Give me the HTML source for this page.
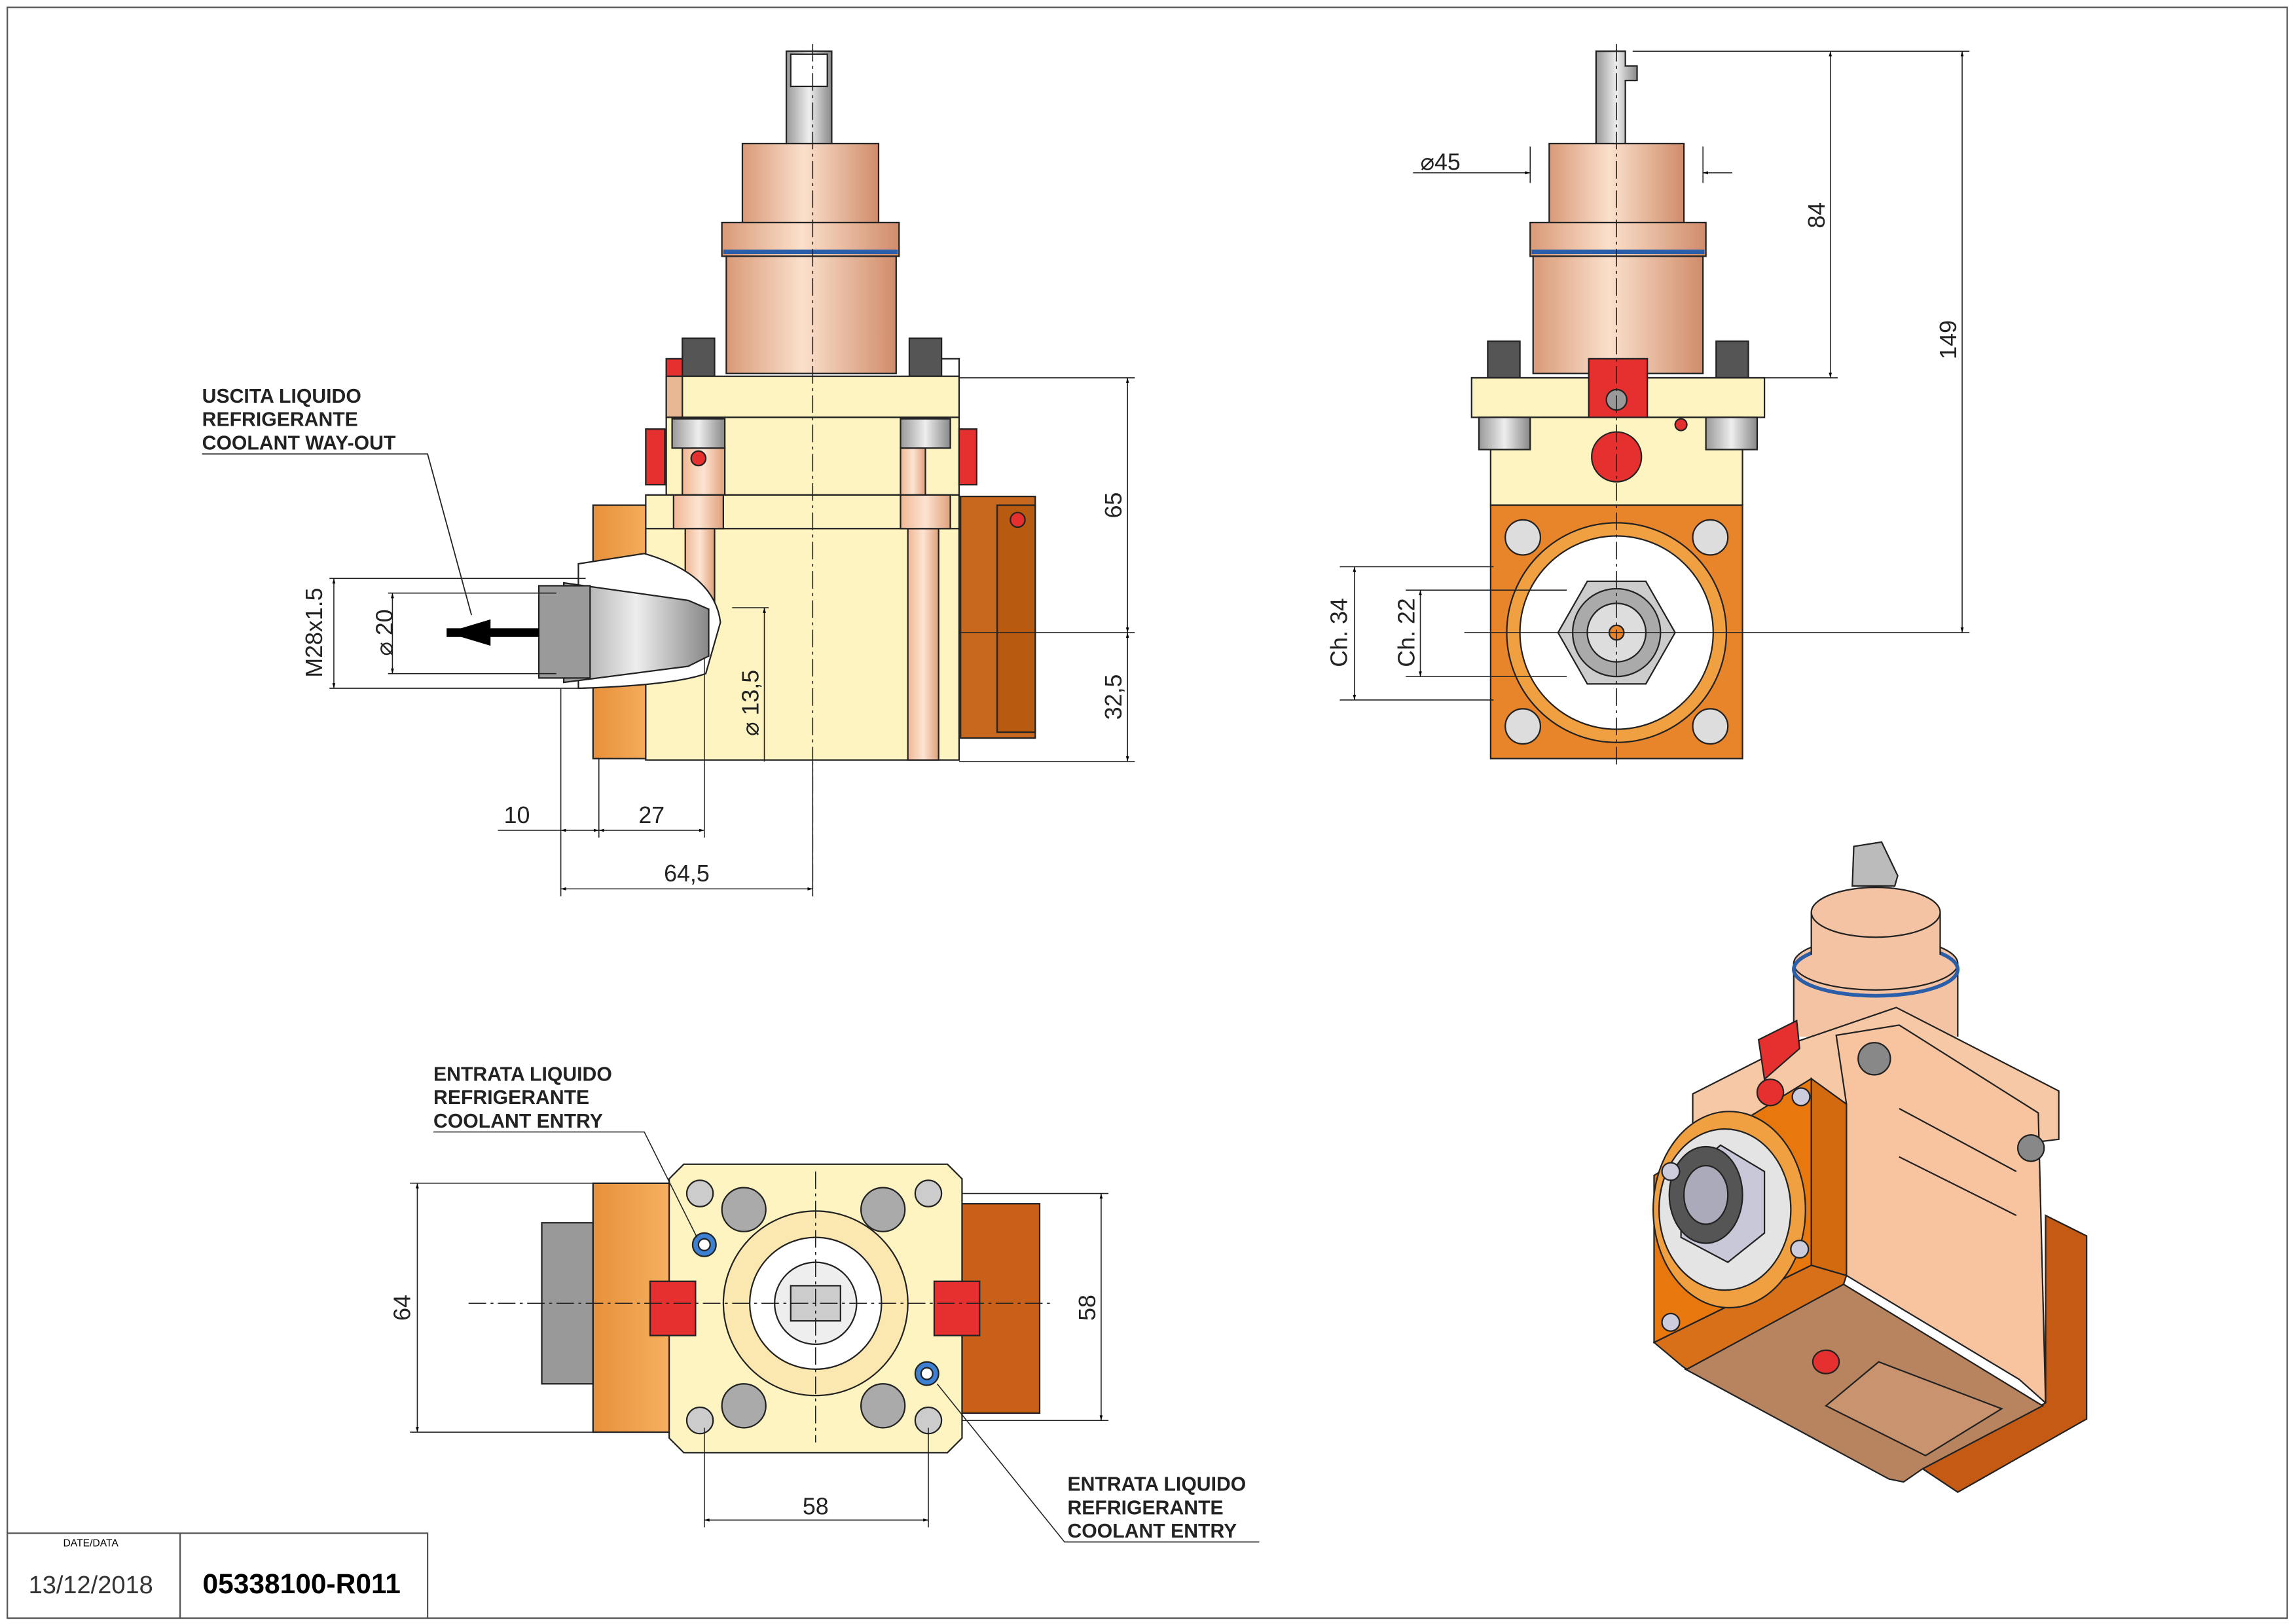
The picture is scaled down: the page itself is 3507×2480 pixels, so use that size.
<!DOCTYPE html>
<html><head><meta charset="utf-8"><style>
html,body{margin:0;padding:0;background:#fff}
svg{display:block}
text{font-family:"Liberation Sans",sans-serif}
</style></head><body>
<svg width="3507" height="2480" viewBox="0 0 1568 1109" preserveAspectRatio="none" xmlns="http://www.w3.org/2000/svg">
<defs>
<linearGradient id="cu" x1="0" x2="1"><stop offset="0" stop-color="#d99a78"/><stop offset=".45" stop-color="#fbe0cc"/><stop offset="1" stop-color="#d08c6a"/></linearGradient>
<linearGradient id="sh" x1="0" x2="1"><stop offset="0" stop-color="#999"/><stop offset=".5" stop-color="#eee"/><stop offset="1" stop-color="#888"/></linearGradient>
<linearGradient id="pk" x1="0" x2="1"><stop offset="0" stop-color="#efb894"/><stop offset=".5" stop-color="#fde4d2"/><stop offset="1" stop-color="#e0a07a"/></linearGradient>
<linearGradient id="or" x1="0" x2="1"><stop offset="0" stop-color="#e8903a"/><stop offset="1" stop-color="#f5b060"/></linearGradient>
<marker id="a" viewBox="0 0 10 10" refX="10" refY="5" markerWidth="8" markerHeight="5" orient="auto-start-reverse"><path d="M0,2 L10,5 L0,8z" fill="#000"/></marker>
</defs>
<rect x="5" y="5" width="1557" height="1100" fill="#fff" stroke="#555" stroke-width="1"/>
<!-- title block -->
<path d="M5,1047 H292 V1105 M123,1047 V1105" fill="none" stroke="#555"/>
<text x="62" y="1056" font-size="7" text-anchor="middle">DATE/DATA</text>
<text x="62" y="1088" font-size="17" text-anchor="middle" fill="#333">13/12/2018</text>
<text x="206" y="1088" font-size="19" font-weight="bold" text-anchor="middle">05338100-R011</text>

<g stroke="#222" stroke-width="1">
<!-- FRONT VIEW -->
<rect x="537" y="35" width="31" height="65" fill="url(#sh)"/>
<rect x="540" y="37" width="25" height="22" fill="#fff"/>
<rect x="507" y="98" width="93" height="57" fill="url(#cu)"/>
<rect x="493" y="152" width="121" height="23" fill="url(#cu)"/>
<rect x="496" y="175" width="116" height="80" fill="url(#cu)"/>
<line x1="494" y1="172" x2="613" y2="172" stroke="#2a5ea8" stroke-width="3"/>
<rect x="466" y="231" width="22" height="26" fill="#555"/>
<rect x="621" y="231" width="22" height="26" fill="#555"/>
<rect x="455" y="245" width="11" height="12" fill="#e63030"/>
<rect x="643" y="245" width="12" height="12" fill="#fff"/>
<rect x="405" y="345" width="40" height="173" fill="url(#or)"/>
<rect x="656" y="339" width="51" height="165" fill="#c8681e"/>
<rect x="681" y="345" width="26" height="155" fill="#b85a10"/>
<circle cx="695" cy="355" r="5" fill="#e63030"/>
<rect x="455" y="257" width="200" height="28" fill="#fdf4c2"/>
<rect x="455" y="257" width="11" height="28" fill="#e8b894"/>
<rect x="455" y="285" width="200" height="53" fill="#fdf4c2"/>
<rect x="441" y="293" width="13" height="38" fill="#e63030"/>
<rect x="655" y="293" width="12" height="38" fill="#e63030"/>
<rect x="466" y="306" width="29" height="32" fill="url(#pk)"/>
<rect x="615" y="306" width="17" height="32" fill="url(#pk)"/>
<rect x="459" y="286" width="36" height="20" fill="url(#sh)"/>
<rect x="615" y="286" width="34" height="20" fill="url(#sh)"/>
<circle cx="477" cy="313" r="5" fill="#e63030"/>
<rect x="441" y="338" width="214" height="181" fill="#fdf4c2"/>
<line x1="441" y1="361" x2="655" y2="361"/>
<rect x="620" y="361" width="21" height="158" fill="url(#pk)"/>
<rect x="460" y="338" width="34" height="23" fill="url(#pk)"/>
<rect x="615" y="338" width="34" height="23" fill="url(#pk)"/>
<rect x="468" y="361" width="20" height="60" fill="url(#pk)"/>
<path d="M395,385 L440,378 Q488,392 492,425 L482,460 Q460,468 395,470z" fill="#fff" stroke="#222"/>
<path d="M385,398 L470,410 L484,416 L484,448 L470,455 L385,466z" fill="url(#sh)"/>
<rect x="368" y="400" width="35" height="63" fill="#9a9a9a"/>
<line x1="305" y1="432" x2="368" y2="432" stroke="#000" stroke-width="6" marker-start="url(#a)"/>
</g>
<g stroke="#222" stroke-width="0.7" fill="none">
<line x1="555" y1="30" x2="555" y2="612" stroke-dasharray="12,3,2,3"/>
<path d="M655,258 H775 M655,432 H775 M655,520 H775"/>
<line x1="770" y1="258" x2="770" y2="432" marker-start="url(#a)" marker-end="url(#a)"/>
<line x1="770" y1="432" x2="770" y2="520" marker-start="url(#a)" marker-end="url(#a)"/>
<path d="M225,395 H400 M225,470 H400 M265,405 H380 M265,460 H380 M500,415 H525"/>
<line x1="228" y1="395" x2="228" y2="470" marker-start="url(#a)" marker-end="url(#a)"/>
<line x1="268" y1="405" x2="268" y2="460" marker-start="url(#a)" marker-end="url(#a)"/>
<line x1="522" y1="415" x2="522" y2="520" marker-start="url(#a)"/>
<path d="M383,470 V612 M409,518 V572 M481,450 V572 M555,520 V612"/>
<line x1="340" y1="567" x2="383" y2="567"/>
<line x1="383" y1="567" x2="409" y2="567" marker-start="url(#a)" marker-end="url(#a)"/>
<line x1="409" y1="567" x2="481" y2="567" marker-start="url(#a)" marker-end="url(#a)"/>
<line x1="383" y1="607" x2="555" y2="607" marker-start="url(#a)" marker-end="url(#a)"/>
<polyline points="138,310 292,310 322,420" stroke-width="0.8"/>
</g>
<g font-size="16" fill="#222">
<text transform="translate(766,345) rotate(-90)" text-anchor="middle">65</text>
<text transform="translate(766,476) rotate(-90)" text-anchor="middle">32,5</text>
<text transform="translate(220,432) rotate(-90)" text-anchor="middle">M28x1.5</text>
<text transform="translate(268,432) rotate(-90)" text-anchor="middle">⌀ 20</text>
<text transform="translate(518,480) rotate(-90)" text-anchor="middle">⌀ 13,5</text>
<text x="353" y="562" text-anchor="middle">10</text>
<text x="445" y="562" text-anchor="middle">27</text>
<text x="469" y="602" text-anchor="middle">64,5</text>
</g>
<g font-size="13.5" font-weight="bold" fill="#222">
<text x="138" y="275">USCITA LIQUIDO</text><text x="138" y="291">REFRIGERANTE</text><text x="138" y="307">COOLANT WAY-OUT</text>
<text x="296" y="738">ENTRATA LIQUIDO</text><text x="296" y="754">REFRIGERANTE</text><text x="296" y="770">COOLANT ENTRY</text>
<text x="729" y="1018">ENTRATA LIQUIDO</text><text x="729" y="1034">REFRIGERANTE</text><text x="729" y="1050">COOLANT ENTRY</text>
</g>

<!-- SIDE VIEW -->
<g stroke="#222" stroke-width="1">
<path d="M1090,35 H1110 V45 H1118 V55 H1110 V100 H1090z" fill="url(#sh)"/>
<rect x="1058" y="98" width="92" height="57" fill="url(#cu)"/>
<rect x="1045" y="152" width="120" height="23" fill="url(#cu)"/>
<rect x="1047" y="175" width="116" height="80" fill="url(#cu)"/>
<line x1="1046" y1="172" x2="1164" y2="172" stroke="#2a5ea8" stroke-width="3"/>
<rect x="1016" y="233" width="22" height="25" fill="#555"/>
<rect x="1172" y="233" width="22" height="25" fill="#555"/>
<rect x="1005" y="258" width="200" height="27" fill="#fdf4c2"/>
<rect x="1018" y="285" width="172" height="60" fill="#fdf4c2"/>
<rect x="1010" y="285" width="35" height="22" fill="url(#sh)"/>
<rect x="1165" y="285" width="35" height="22" fill="url(#sh)"/>
<rect x="1085" y="245" width="40" height="40" fill="#e63030"/>
<circle cx="1104" cy="273" r="7" fill="#999"/>
<circle cx="1104" cy="312" r="17" fill="#e63030"/>
<circle cx="1148" cy="290" r="4" fill="#e63030"/>
<rect x="1018" y="345" width="172" height="173" fill="#e8842a"/>
<circle cx="1104" cy="432" r="75" fill="#f0a040"/>
<circle cx="1104" cy="432" r="66" fill="#fff"/>
<polygon points="1064,432 1084,397 1124,397 1144,432 1124,467 1084,467" fill="#ccc"/>
<circle cx="1104" cy="432" r="30" fill="#aaa"/>
<circle cx="1104" cy="432" r="20" fill="#ddd"/>
<circle cx="1104" cy="432" r="5" fill="#e8842a"/>
<g fill="#ddd"><circle cx="1040" cy="367" r="12"/><circle cx="1168" cy="367" r="12"/><circle cx="1040" cy="496" r="12"/><circle cx="1168" cy="496" r="12"/></g>
</g>
<g stroke="#222" stroke-width="0.7" fill="none">
<line x1="1104" y1="30" x2="1104" y2="525" stroke-dasharray="12,3,2,3"/>
<path d="M1115,35 H1345 M1165,258 H1255 M1000,432 H1345 M915,387 H1020 M960,403 H1070 M915,478 H1020 M960,462 H1070 M1045,100 V125 M1163,100 V125"/>
<line x1="1250" y1="35" x2="1250" y2="258" marker-start="url(#a)" marker-end="url(#a)"/>
<line x1="1340" y1="35" x2="1340" y2="432" marker-start="url(#a)" marker-end="url(#a)"/>
<line x1="925" y1="387" x2="925" y2="478" marker-start="url(#a)" marker-end="url(#a)"/>
<line x1="970" y1="403" x2="970" y2="462" marker-start="url(#a)" marker-end="url(#a)"/>
<line x1="965" y1="118" x2="1045" y2="118" marker-end="url(#a)"/>
<line x1="1163" y1="118" x2="1183" y2="118" marker-start="url(#a)"/>
</g>
<g font-size="16" fill="#222">
<text x="970" y="116">⌀45</text>
<text transform="translate(1246,147) rotate(-90)" text-anchor="middle">84</text>
<text transform="translate(1336,232) rotate(-90)" text-anchor="middle">149</text>
<text transform="translate(920,432) rotate(-90)" text-anchor="middle">Ch. 34</text>
<text transform="translate(966,432) rotate(-90)" text-anchor="middle">Ch. 22</text>
</g>

<!-- BOTTOM VIEW -->
<g stroke="#222" stroke-width="1">
<rect x="370" y="835" width="35" height="110" fill="#999"/>
<rect x="405" y="808" width="52" height="170" fill="url(#or)"/>
<rect x="657" y="822" width="53" height="143" fill="#c8601a"/>
<polygon points="467,795 647,795 657,805 657,982 647,992 467,992 457,982 457,805" fill="#fdf4c2"/>
<circle cx="557" cy="890" r="63" fill="#fbe8b0"/>
<circle cx="557" cy="890" r="45" fill="#fff"/>
<circle cx="557" cy="890" r="28" fill="#eee"/>
<rect x="540" y="878" width="34" height="24" fill="#ccc"/>
<g fill="#aaa"><circle cx="508" cy="826" r="15"/><circle cx="603" cy="826" r="15"/><circle cx="508" cy="960" r="15"/><circle cx="603" cy="960" r="15"/></g>
<g fill="#ccc"><circle cx="478" cy="815" r="9"/><circle cx="634" cy="815" r="9"/><circle cx="478" cy="970" r="9"/><circle cx="634" cy="970" r="9"/></g>
<circle cx="481" cy="850" r="8" fill="#3d7fd0"/><circle cx="481" cy="850" r="4" fill="#fff"/>
<circle cx="633" cy="938" r="8" fill="#3d7fd0"/><circle cx="633" cy="938" r="4" fill="#fff"/>
<rect x="444" y="875" width="31" height="37" fill="#e63030"/>
<rect x="638" y="875" width="31" height="37" fill="#e63030"/>
</g>
<g stroke="#222" stroke-width="0.7" fill="none">
<path d="M320,890 H720 M557,800 V985" stroke-dasharray="12,3,2,3"/>
<path d="M280,808 H410 M280,978 H410 M657,815 H757 M657,970 H757 M481,975 V1043 M634,975 V1043"/>
<line x1="285" y1="808" x2="285" y2="978" marker-start="url(#a)" marker-end="url(#a)"/>
<line x1="752" y1="815" x2="752" y2="970" marker-start="url(#a)" marker-end="url(#a)"/>
<line x1="481" y1="1038" x2="634" y2="1038" marker-start="url(#a)" marker-end="url(#a)"/>
<polyline points="296,773 440,773 476,845"/>
<polyline points="860,1053 727,1053 640,945"/>
</g>
<g font-size="16" fill="#222">
<text transform="translate(280,893) rotate(-90)" text-anchor="middle">64</text>
<text transform="translate(748,893) rotate(-90)" text-anchor="middle">58</text>
<text x="557" y="1034" text-anchor="middle">58</text>
</g>

<!-- ISOMETRIC -->
<g stroke="#222" stroke-width="1">
<polygon points="1266,578 1285,575 1296,598 1294,605 1265,605" fill="#bbb"/>
<rect x="1225" y="658" width="112" height="50" fill="#f4c3a3" stroke="none"/>
<path d="M1225,658 V708 M1337,658 V708"/>
<ellipse cx="1281" cy="658" rx="56" ry="18" fill="#f4c3a3"/>
<ellipse cx="1281" cy="662" rx="56" ry="18" fill="none" stroke="#2a5ea8" stroke-width="2.5"/>
<rect x="1237" y="623" width="88" height="33" fill="#f4c3a3" stroke="none"/>
<path d="M1237,623 V652 M1325,623 V652"/>
<ellipse cx="1281" cy="623" rx="44" ry="17" fill="#f4c3a3"/>
<polygon points="1156,747 1225,712 1295,688 1406,745 1406,778 1390,780 1156,770" fill="#f6c8a6"/>
<polygon points="1254,707 1297,700 1392,760 1397,958 1379,942 1261,871 1261,754" fill="#f8c4a0"/>
<path d="M1297,757 L1377,800 M1297,790 L1377,830" fill="none"/>
<polygon points="1397,830 1425,844 1425,969 1337,1019 1313,1003 1397,958" fill="#c45a14"/>
<polygon points="1151,935 1259,877 1395,960 1313,1003 1300,1012 1290,1010" fill="#b88460"/>
<polygon points="1247,960 1283,930 1367,962 1315,994" fill="#c8936e"/>
<polygon points="1129.6,916.7 1237,864 1261,871 1259,877 1152,935 1149,933" fill="#d8701a"/>
<polygon points="1129.6,802.7 1237,736.6 1237,864 1129.6,916.7" fill="#e8780e"/>
<polygon points="1237,736.6 1261,754 1261,871 1237,864" fill="#d46a10"/>
<ellipse cx="1181" cy="826" rx="52" ry="67" fill="#f0a040"/>
<ellipse cx="1178" cy="826" rx="45" ry="55" fill="#e4e4e4"/>
<polygon points="1148,805 1175,782 1205,800 1205,842 1180,862 1148,845" fill="#c8c8d8"/>
<ellipse cx="1165" cy="816" rx="25" ry="33" fill="#555"/>
<ellipse cx="1165" cy="816" rx="15" ry="20" fill="#aab"/>
<ellipse cx="1247" cy="930" rx="9" ry="8" fill="#e63030"/>
<polygon points="1201,710 1227,697 1229,716 1205,737" fill="#e63030"/>
<circle cx="1209" cy="746" r="9" fill="#e63030"/>
<circle cx="1280" cy="723" r="11" fill="#888"/>
<circle cx="1387" cy="784" r="9" fill="#888"/>
<g fill="#ccd"><circle cx="1230" cy="749" r="6"/><circle cx="1141" cy="800" r="6"/><circle cx="1229" cy="853" r="6"/><circle cx="1141" cy="903" r="6"/></g>
</g>
</svg>
</body></html>
